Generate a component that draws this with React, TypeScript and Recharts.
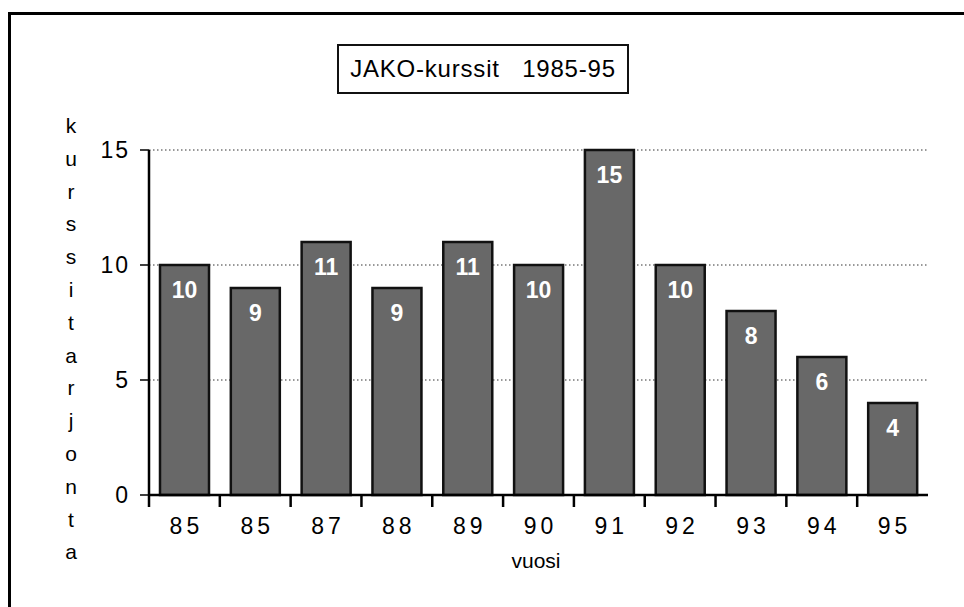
import { BarChart, Bar, XAxis, YAxis, CartesianGrid, LabelList } from 'recharts';

const years = ['85', '85', '87', '88', '89', '90', '91', '92', '93', '94', '95'];
const courses = [10, 9, 11, 9, 11, 10, 15, 10, 8, 6, 4];
const yTicks = [0, 5, 10, 15];
const title = 'JAKO-kurssit   1985-95';
const yLabel = 'kurssitarjonta';
const xLabel = 'vuosi';

const data = years.map((year, i) => ({ year, kurssit: courses[i] }));

const W = 964;
const H = 607;
const margin = { top: 150, right: 36, left: 89, bottom: 52 };
const yAxisWidth = 60;
const plotWidth = W - margin.left - yAxisWidth - margin.right;
const band = plotWidth / years.length;
const font = '"Liberation Sans", Arial, Helvetica, sans-serif';

const XTick = ({ x, y, payload }: any) => (
  <g>
    <line x1={x - band / 2} x2={x - band / 2} y1={y} y2={y + 12} stroke="#000" strokeWidth={2.5} />
    <text x={x + 2} y={y + 39} textAnchor="middle" fontSize={23} fill="#000" fontFamily={font} letterSpacing={4}>
      {payload.value}
    </text>
  </g>
);

const YTick = ({ x, y, payload }: any) => (
  <text x={x} y={y + 8} textAnchor="end" fontSize={23} fill="#000" fontFamily={font} letterSpacing={2}>
    {payload.value}
  </text>
);

const App = () => {
  return (
    <div style={{ position: 'absolute', left: 0, top: 0, width: W, height: H, overflow: 'hidden', background: '#fff', fontFamily: font }}>
      <div style={{ position: 'absolute', left: 8, top: 12, width: 1000, height: 800, borderLeft: '3px solid #000', borderTop: '3px solid #000' }} />
      <div
        style={{
          position: 'absolute', left: 337, top: 44, width: 288, height: 46,
          border: '2px solid #111', display: 'flex', alignItems: 'center', justifyContent: 'center',
          fontSize: 24, letterSpacing: 0.8, whiteSpace: 'pre', color: '#000',
        }}
      >
        {title}
      </div>
      <div style={{ position: 'absolute', left: 56, top: 110, width: 30, textAlign: 'center', fontSize: 21, lineHeight: '32.8px', color: '#000' }}>
        {yLabel.split('').map((c, i) => (
          <div key={i}>{c}</div>
        ))}
      </div>
      <div style={{ position: 'absolute', left: 486, top: 549, width: 100, textAlign: 'center', fontSize: 21, color: '#000' }}>
        {xLabel}
      </div>
      <div style={{ position: 'absolute', left: 0, top: 0 }}>
        <BarChart width={W} height={H} data={data} margin={margin}>
          <CartesianGrid vertical={false} stroke="#333" strokeDasharray="1.5 2.5" />
          <XAxis
            dataKey="year"
            height={60}
            axisLine={{ stroke: '#000', strokeWidth: 2.5 }}
            tickLine={false}
            tickSize={0}
            tickMargin={0}
            interval={0}
            tick={<XTick />}
          />
          <YAxis
            width={yAxisWidth}
            domain={[0, 15]}
            ticks={yTicks}
            axisLine={{ stroke: '#000', strokeWidth: 2.5 }}
            tickLine={{ stroke: '#000', strokeWidth: 1.5 }}
            tickSize={9}
            tickMargin={10}
            tick={<YTick />}
          />
          <Bar dataKey="kurssit" barSize={49} fill="#686868" stroke="#111" strokeWidth={2.5} isAnimationActive={false}>
            <LabelList
              dataKey="kurssit"
              position="insideTop"
              offset={17}
              fill="#fff"
              fontSize={23}
              fontWeight="bold"
              fontFamily={font}
            />
          </Bar>
        </BarChart>
      </div>
    </div>
  );
};

export default App;
